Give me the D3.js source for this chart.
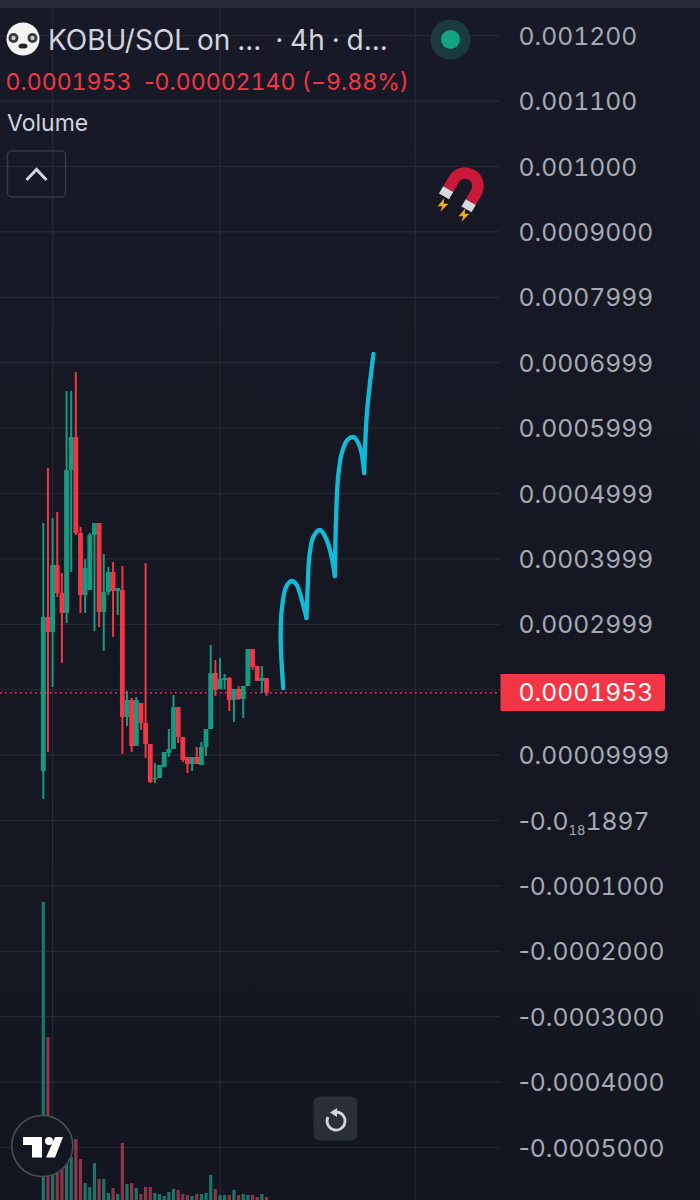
<!DOCTYPE html>
<html>
<head>
<meta charset="utf-8">
<script src="https://cdn.jsdelivr.net/npm/d3@7"></script>
<style>
  html, body { margin: 0; padding: 0; background: #161924; }
  svg { display: block; }
  text { font-family: Inter, "Noto Sans", sans-serif; white-space: pre; }
  .tab { font-feature-settings: "tnum" 1; }
  .tab .sign { font-feature-settings: "tnum" 0; }
</style>
</head>
<body>
<svg id="chart" viewBox="0 0 700 1200" width="700" height="1200"></svg>
<script>
// prices are in millionths of SOL
const opens = [75.7,311.2,288.2,390.7,347.8,317.3,535.9,586.4,439.6,344.8,352.4,436.5,454.9,318.8,349.4,380,350.9,352.4,158.3,184.2,113.9,179.7,149.1,117,65,65,81.8,103.2,109.3,173.5,127.7,97.1,86.4,97.1,84.9,112.4,139.9,225.5,201.1,214.8,217.9,184.2,201.1,186,205.7,262.2,236.2,213.3,217.9];
const highs = [454.9,539,462.5,471.7,378.4,656.7,656.7,685.8,448.8,399.8,439.6,454.9,454.9,407.5,387.6,395.2,355.5,389.1,198,187.3,188.8,179.7,393.7,117,87.9,84.9,104.7,139.9,191.9,173.5,127.7,97.1,97.1,112.4,120,139.9,268.3,245.4,248.5,224,219.4,201.1,205.7,205.7,260.7,262.2,236.2,236.2,217.9];
const lows = [32.9,104.7,204.1,341.7,240.8,302,380,436.5,317.3,317.3,352.4,289.7,295.9,259.2,344.8,280.6,314.2,101.7,144.5,104.7,113.9,138.4,95.6,57.3,57.3,65,81.8,97.1,109.3,118.5,89.4,72.6,75.7,86.4,84.9,98.6,139.9,190.4,201.1,201.1,167.4,150.6,184.2,156.7,205.7,230.1,213.3,195,190.4];
const closes = [311.2,288.2,390.7,347.8,317.3,535.9,586.4,439.6,344.8,386.1,436.5,454.9,318.8,349.4,380,350.9,355.5,158.3,184.2,113.9,184.2,149.1,117,58.9,65,84.9,104.7,109.3,173.5,127.7,92.5,86.4,97.1,86.4,112.4,139.9,225.5,199.5,216.4,217.9,184.2,201.1,186,205.7,262.2,234.7,213.3,217.9,195.3];
const volumes = [298,163,35,27,30,37,43,61,41,17,13,37,21,21,7,12,6,57,16,17,12,6,13,13,7,6,4,8,11,10,6,5,4,6,6,7,25,11,5,5,5,10,5,6,5,5,3,6,3];

const priceTicks = [1200,1100,1000,900,800,700,600,500,400,300,100,0,-100,-200,-300,-400,-500];
const tickLabels = ["0.001200","0.001100","0.001000","0.0009000","0.0007999","0.0006999","0.0005999","0.0004999","0.0003999","0.0002999","0.00009999","-0.0₁₈1897","-0.0001000","-0.0002000","-0.0003000","-0.0004000","-0.0005000"];
const hiddenGridTick = [200];
const timeGridBars = [2, 38, 80];

const lastPrice = 195.3;
const lastPriceLabel = "0.0001953";
const titleText = "KOBU/SOL on ...  · 4h · d...";
const legendText = "0.0001953  -0.00002140 (−9.88%)";
const volumeText = "Volume";

// hand drawn arrow, one list per stroke (bar position, price)
const sketchBars = [
  [51.6,51.05,51.27,52.2,53.4,54.5,55.6,56.6],
  [56.6,56.86,57.2,58.06,59.5,60.95,62,62.7],
  [62.7,62.95,63.4,64.2,65.4,66.7,68.1,69],
  [69,69.6,71]
];
const sketchPrices = [
  [202.6,276,321.9,357,366.2,360,337.1,309.6],
  [309.6,357,402.9,433.5,444.2,428.9,402.9,373.8],
  [373.8,459.5,525.2,561.9,581.8,586.4,571.1,531.3],
  [531.3,623,713.3]
];

const svg = d3.select("#chart");
const green = "#149c82", red = "#f23645";

const x = d3.scaleLinear().domain([0, 48]).range([43.3, 266.5]);
const y = d3.scaleLinear().domain([-500, 1200]).range([1147.5, 35.7]);
const yVol = d3.scaleLinear().domain([0, 298]).range([1200, 902]);

// digits are tabular, minus signs are not
function addRuns(t, str) {
    str.split(/([-−])/).filter(s => s.length).forEach(s => {
        t.append("tspan").classed("sign", /^[-−]$/.test(s)).text(s);
    });
}

const bg = svg.append("defs").append("linearGradient").attr("id", "bg").attr("x2", 0).attr("y2", 1);
bg.append("stop").attr("offset", 0).attr("stop-color", "#171a26");
bg.append("stop").attr("offset", 1).attr("stop-color", "#131620");
svg.append("rect").attr("width", 700).attr("height", 1200).attr("fill", "url(#bg)");
svg.append("rect").attr("width", 700).attr("height", 8).attr("fill", "#252a36");

// Grid
const grid = svg.append("g").attr("stroke", "#252833").attr("stroke-width", 1.2);
grid.selectAll(".h").data(priceTicks.concat(hiddenGridTick)).enter().append("line")
    .attr("x1", 0).attr("x2", 500)
    .attr("y1", d => y(d)).attr("y2", d => y(d));
grid.selectAll(".v").data(timeGridBars).enter().append("line")
    .attr("x1", d => x(d)).attr("x2", d => x(d))
    .attr("y1", 8).attr("y2", 1200);

// Volume bars
svg.append("g").selectAll("rect").data(volumes).enter().append("rect")
    .attr("x", (d, i) => x(i) - 1.6)
    .attr("width", 3.2)
    .attr("y", d => yVol(d))
    .attr("height", d => yVol(0) - yVol(d))
    .attr("fill", (d, i) => closes[i] >= opens[i] ? "#1d7468" : "#8f3549");

// Last price dotted line
svg.append("line")
    .attr("x1", 0).attr("x2", 500)
    .attr("y1", y(lastPrice)).attr("y2", y(lastPrice))
    .attr("stroke", "#d93a55").attr("stroke-width", 1.6).attr("stroke-dasharray", "1.8 3.2");

// Candles
const candles = svg.append("g").selectAll("g").data(opens).enter().append("g")
    .attr("fill", (d, i) => closes[i] >= opens[i] ? green : red);
candles.append("rect")
    .attr("x", (d, i) => x(i) - 1).attr("width", 2)
    .attr("y", (d, i) => y(highs[i]))
    .attr("height", (d, i) => y(lows[i]) - y(highs[i]));
candles.append("rect")
    .attr("x", (d, i) => x(i) - 2.4).attr("width", 4.8)
    .attr("y", (d, i) => y(Math.max(opens[i], closes[i])))
    .attr("height", (d, i) => Math.max(1, Math.abs(y(opens[i]) - y(closes[i]))));

// Sketch
const sketchLine = d3.line()
    .x(d => x(d[0])).y(d => y(d[1]))
    .curve(d3.curveCatmullRom.alpha(0.5));
svg.append("g").selectAll("path").data(d3.range(sketchBars.length)).enter().append("path")
    .attr("d", k => sketchLine(d3.zip(sketchBars[k], sketchPrices[k])))
    .attr("fill", "none").attr("stroke", "#0fbcd8").attr("stroke-width", 4.3)
    .attr("stroke-linecap", "round").attr("stroke-linejoin", "round");

// Price axis
const axis = d3.axisRight(y).tickValues(priceTicks).tickSize(0).tickPadding(0)
    .tickFormat((d, i) => tickLabels[i]);
const axisG = svg.append("g").attr("transform", "translate(518.5,0)").call(axis);
axisG.select(".domain").remove();
axisG.selectAll("text")
    .attr("class", "tab")
    .attr("font-size", 24.7).attr("fill", "#a6a9b2").attr("x", 0).attr("dy", "0.35em")
    .style("font-family", "Inter, sans-serif")
    .each(function(d, i) {
        const parts = tickLabels[i].split("₁₈");
        const t = d3.select(this).text(null);
        addRuns(t, parts[0]);
        if (parts.length < 2) return;
        t.append("tspan").attr("font-size", 13).attr("dy", 5).text("18");
        t.append("tspan").attr("dy", -5).text(parts[1]);
    });

// Last price tag
svg.append("path")
    .attr("d", "M500.5,674H662a3,3 0 0 1 3,3V708a3,3 0 0 1 -3,3H500.5Z")
    .attr("fill", "#f23645");
svg.append("text").attr("class", "tab").attr("x", 518.5).attr("y", y(lastPrice)).attr("dy", "0.35em")
    .attr("font-size", 24.7).attr("fill", "#ffffff").text(lastPriceLabel);

// Header
svg.append("text").attr("x", 48).attr("y", 50).attr("font-size", 28).attr("word-spacing", -1).attr("fill", "#d1d4dc").text(titleText);
const legend = svg.append("text").attr("class", "tab").attr("x", 5.5).attr("y", 90).attr("font-size", 23.1).attr("fill", "#f23645");
addRuns(legend, legendText);
svg.append("text").attr("x", 7).attr("y", 131).attr("font-size", 23).attr("fill", "#d1d4dc").text(volumeText);

// Panda logo
const panda = svg.append("g").attr("transform", "translate(23,39)");
panda.append("circle").attr("r", 16.5).attr("fill", "#f4f4f4");
[[-9.5, -1], [9.5, -1]].forEach(p => {
    panda.append("circle").attr("cx", p[0]).attr("cy", p[1]).attr("r", 5).attr("fill", "#3a3a3a");
    panda.append("circle").attr("cx", p[0]).attr("cy", p[1]).attr("r", 2.2).attr("fill", "#c9c9c9");
});
panda.append("ellipse").attr("cy", 7).attr("rx", 4.5).attr("ry", 2.6).attr("fill", "#222");

// Collapse button
svg.append("rect").attr("x", 7.5).attr("y", 151).attr("width", 58).attr("height", 46).attr("rx", 4)
    .attr("fill", "none").attr("stroke", "#363a45").attr("stroke-width", 1.5);
svg.append("path").attr("d", "M26.5,180L36.5,169.5L46.5,180").attr("fill", "none")
    .attr("stroke", "#d1d4dc").attr("stroke-width", 3);

// Market status dot
svg.append("circle").attr("cx", 450.5).attr("cy", 39.5).attr("r", 20).attr("fill", "#1a3a3b");
svg.append("circle").attr("cx", 450.5).attr("cy", 39.5).attr("r", 9.5).attr("fill", "#11a584");

// Magnet
const magnet = svg.append("g").attr("transform", "translate(465,186) rotate(30)");
magnet.append("path").attr("d", "M-13,11V0A13,13 0 0 1 13,0V11").attr("fill", "none")
    .attr("stroke", "#c8193a").attr("stroke-width", 11.5);
[-13, 13].forEach(dx => magnet.append("rect").attr("x", dx - 5.8).attr("y", 11).attr("width", 11.6).attr("height", 8.5).attr("fill", "#d5dae0"));
[[443, 205], [464, 215]].forEach(p => svg.append("path")
    .attr("transform", `translate(${p[0]},${p[1]}) scale(1.35)`)
    .attr("d", "M1,-5L-4,1H-0.5L-2,5L4,-1H0.5Z").attr("fill", "#f7a823"));

// Reset button
svg.append("rect").attr("x", 313.5).attr("y", 1096.5).attr("width", 44).attr("height", 44).attr("rx", 6).attr("fill", "#2a2e39");
svg.append("path").attr("d", "M336,1112A9,9 0 1 1 328,1117").attr("fill", "none").attr("stroke", "#d1d4dc").attr("stroke-width", 2.8);
svg.append("path").attr("d", "M337,1108V1117L330,1112.5Z").attr("fill", "#d1d4dc");

// TradingView logo
svg.append("circle").attr("cx", 42.3).attr("cy", 1146).attr("r", 30.5).attr("fill", "#131722").attr("stroke", "#4a4e58").attr("stroke-width", 1.6);
svg.append("path").attr("d", "M23,1137H42V1157.5H32V1145H23Z").attr("fill", "#ffffff");
svg.append("circle").attr("cx", 49).attr("cy", 1141).attr("r", 4).attr("fill", "#ffffff");
svg.append("path").attr("d", "M55,1137H63L55,1157.5H46Z").attr("fill", "#ffffff");
</script>
</body>
</html>
